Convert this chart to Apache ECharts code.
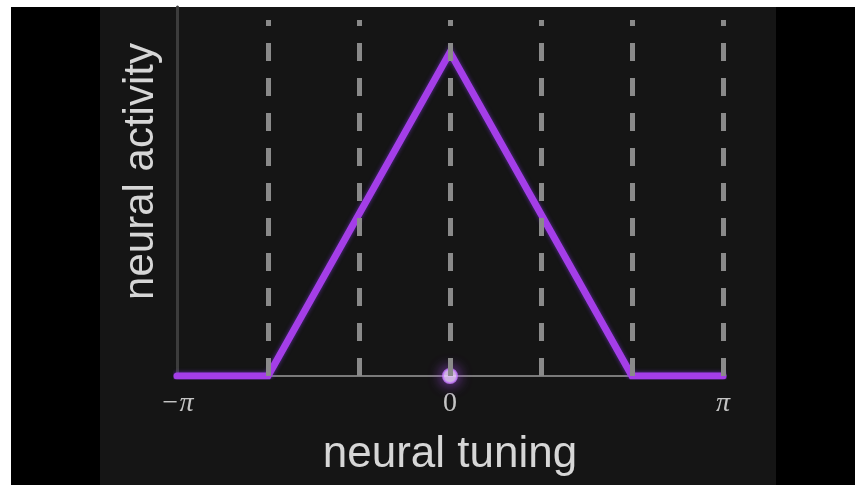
<!DOCTYPE html>
<html>
<head>
<meta charset="utf-8">
<script src="https://cdn.jsdelivr.net/npm/echarts@6/dist/echarts.min.js"></script>
<style>
  html, body { margin: 0; padding: 0; background: #ffffff; }
  #chart { width: 855px; height: 485px; }
</style>
</head>
<body>
<div id="chart"></div>
<script>
// Preferred stimulus tuning curve: flat outside ±2π/3, linear rise to a peak at 0.
const tuningX = [-Math.PI, -2 * Math.PI / 3, 0, 2 * Math.PI / 3, Math.PI];
const activity = [0, 0, 1, 0, 0];

// Dashed guide positions along the tuning axis.
const guideX = [-2 * Math.PI / 3, -Math.PI / 3, 0, Math.PI / 3, 2 * Math.PI / 3, Math.PI];

// Current stimulus marker.
const stimulusX = [0];
const stimulusY = [0];

// Tick labels shown on the tuning axis (keyed by multiples of π/3).
const tickLabels = { '-3': '{pi|\u2212\u03c0}', '0': '{zero|0}', '3': '{pi|\u03c0}' };

const yMax = 1.14;

const chart = echarts.init(document.getElementById('chart'), null, { renderer: 'canvas' });

const labelFont = { color: '#c4c4c4', fontSize: 28, fontFamily: 'Liberation Serif' };

chart.setOption({
  backgroundColor: 'transparent',
  animation: false,
  graphic: [
    { type: 'rect', z: -100, silent: true, shape: { x: 0, y: 0, width: 855, height: 485 }, style: { fill: '#ffffff' } },
    { type: 'rect', z: -99, silent: true, shape: { x: 11, y: 7, width: 844, height: 478 }, style: { fill: '#000000' } },
    { type: 'rect', z: -98, silent: true, shape: { x: 100, y: 7, width: 676, height: 478 }, style: { fill: '#151515' } }
  ],
  grid: { left: 177, right: 132, top: 7, bottom: 109, containLabel: false },
  xAxis: {
    type: 'value',
    min: -Math.PI,
    max: Math.PI,
    interval: Math.PI / 3,
    name: 'neural tuning',
    nameLocation: 'middle',
    nameGap: 57,
    nameTextStyle: { color: '#d6d6d6', fontSize: 44, fontFamily: 'Liberation Sans' },
    axisLine: { show: true, onZero: true, lineStyle: { color: '#7a7a7a', width: 2 } },
    axisTick: { show: false },
    splitLine: { show: false },
    axisLabel: {
      margin: 14,
      formatter: function (v) {
        const k = String(Math.round(v / (Math.PI / 3)));
        return tickLabels[k] !== undefined ? tickLabels[k] : '';
      },
      rich: {
        pi: Object.assign({ fontStyle: 'italic' }, labelFont),
        zero: Object.assign({ fontStyle: 'normal' }, labelFont)
      }
    }
  },
  yAxis: {
    type: 'value',
    min: 0,
    max: yMax,
    name: 'neural activity',
    nameLocation: 'middle',
    nameRotate: 90,
    nameGap: 15,
    nameTextStyle: {
      color: '#d6d6d6',
      fontSize: 42,
      fontFamily: 'Liberation Sans',
      padding: [0, 0, 0, 40]
    },
    axisLine: { show: true, onZero: false, lineStyle: { color: '#3c3c3c', width: 3 } },
    axisTick: { show: false },
    axisLabel: { show: false },
    splitLine: { show: false }
  },
  series: [
    {
      type: 'line',
      data: [],
      silent: true,
      markLine: {
        silent: true,
        symbol: ['none', 'none'],
        label: { show: false },
        lineStyle: { color: '#8a8a8a', width: 5, type: [18, 17], opacity: 1 },
        data: guideX.map(function (x) {
          return [{ coord: [x, 0] }, { coord: [x, 1.1] }];
        })
      },
      z: 1
    },
    {
      type: 'line',
      data: tuningX.map(function (x, i) { return [x, activity[i]]; }),
      showSymbol: false,
      symbol: 'none',
      lineStyle: {
        color: '#a43ee8',
        width: 7,
        cap: 'round',
        join: 'miter',
        shadowBlur: 4,
        shadowColor: 'rgba(140,60,255,0.6)'
      },
      z: 3
    },
    {
      type: 'scatter',
      data: stimulusX.map(function (x, i) { return [x, stimulusY[i]]; }),
      symbolSize: 14,
      itemStyle: {
        color: '#f6eaff',
        borderColor: '#c77dff',
        borderWidth: 2,
        shadowBlur: 14,
        shadowColor: '#b450ff'
      },
      z: 4
    }
  ]
});
</script>
</body>
</html>
